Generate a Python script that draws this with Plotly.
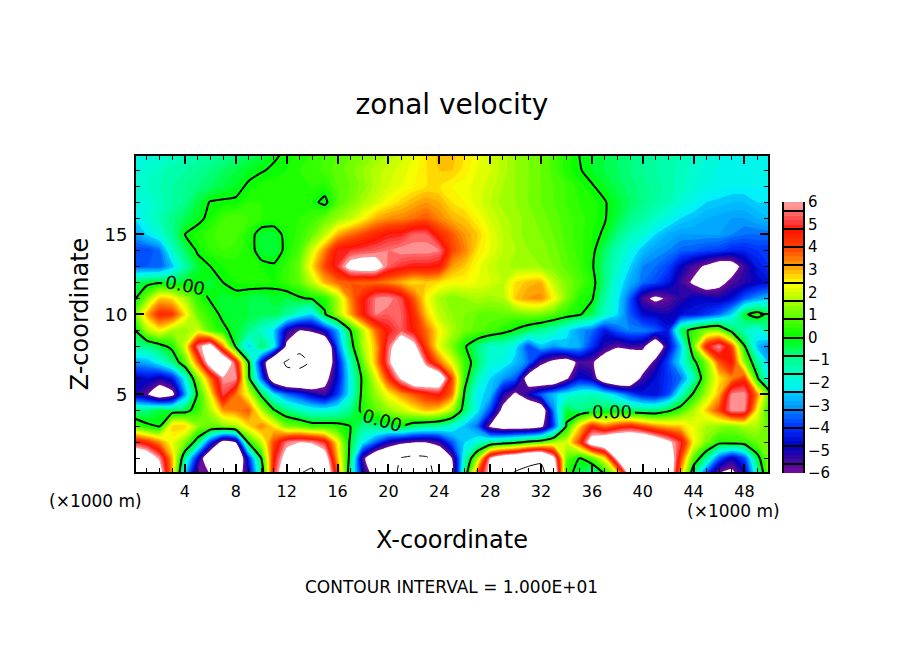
import plotly.graph_objects as go

FONT = "DejaVu Sans"
WIDTH = 904
HEIGHT = 654
PAGE_MARGIN = 8  # the browser body margin shifts the whole figure

x_km = list(range(51))
z_km = list(range(21))

# zonal velocity, one list per height (km), one value per km in x
u_z00 = [8, 8, 7, 3, -2.5, -6, -6, -5.9, -7, -5, -1, 5, 8, 10, 11, 8, 4, -1, -4.8, -6.8, -9, -10.5, -11.5, -11, -9, -6.5, -.8, 4, 6.5, 9, 10.5, 11, 11, 8, .4, -.5, -1.5, -.1, 2, 6.5, 9, 9, 8, 3, -1, -4, -6.2, -6.5, -5, -1.5, 1.5]
u_z01 = [8, 7.5, 5.8, 3, -1, -4.6, -8, -8.5, -8.5, -4.2, 0, 4.6, 6.8, 8, 8.5, 7, 3, -.4, -5.6, -7.8, -8.5, -10.2, -10.8, -10.5, -8, -6, -1.5, 1.5, 6, 7.5, 8, 9, 9.5, 6.5, 1, 0, .8, 2.4, 6.4, 8, 9, 9, 7.8, 4, .8, -1, -3.6, -5, -3.8, -.4, 1.5]
u_z02 = [5, 4.4, 3.4, 2.2, 1.2, -.6, -4, -6.8, -6, .2, 1.8, 4, 5.6, 6, 5.8, 5, 2.4, -.2, -2.2, -3.6, -5, -5.6, -6, -6, -5.4, -3.6, -2.4, -1.8, -1, -.6, -.2, .4, .8, 1.6, 2, 4, 7, 8, 8.5, 8.5, 8.5, 7.5, 6.4, 5, 2.4, 1.2, .3, .4, .5, 1, 1.2]
u_z03 = [.8, .2, 0, 2.8, 2.8, 1.4, 1, 1.2, 1.6, 2.6, 3.4, 2.6, 1.2, 1, .5, .5, .4, 0, -1, -.8, -.5, -.1, -.7, -1, -1.2, -1.8, -2.6, -3.4, -6.2, -7, -7, -7, -6.4, -3.8, .1, 2.6, 4.5, 3.6, 4.2, 4.6, 4, 3.4, 3, 2.8, 2.2, 1.6, 1.4, 1.2, 1.6, 1.6, .8]
u_z04 = [-.8, -.8, -.3, -.5, -.4, .5, 1.6, 3.2, 3.4, 3.8, 1.8, .1, -.8, -1.4, -1.8, -1.9, -1.6, -.9, .3, .9, 1.4, 1.8, 2.4, 2.9, 2.6, 1.6, -.6, -2.2, -3.8, -6.5, -8, -8, -7.5, -3.2, -.3, -.9, -.6, -.4, -.2, -.6, -.8, -.8, -.2, .6, 1.6, 2.8, 4, 5.8, 5.6, 2.4, .2]
u_z05 = [-5, -5.8, -7.4, -6.5, -3, .2, 2.4, 5.2, 3.6, 2.2, -.2, -2.2, -3.4, -4, -4.8, -5.4, -4, -2, .4, 1.4, 2.4, 3.2, 3.8, 4.4, 4.8, 3.6, -.2, -2.2, -2.6, -5, -6.3, -5, -3.6, -2.6, -2, -1.6, -1.4, -1.8, -2.6, -3.6, -4.4, -4.6, -3.8, -1.6, .2, 1.6, 3, 5.7, 5.8, 3.4, .6]
u_z06 = [-5, -4.6, -5, -4.4, -2, 1.2, 3.6, 5.8, 5.8, .3, -3.4, -7.5, -9, -9, -8.5, -6.6, -4.6, -2, .3, 2, 4.2, 6.2, 8, 8, 7.5, 4, .4, -1.4, -2.4, -3, -3.6, -7, -8, -8, -6.2, -4.6, -5, -7.5, -8.5, -8, -5.4, -4.6, -4, -3.4, -1.4, 1, 2.6, 3.4, 4.2, .2, -2.4]
u_z07 = [-3, -2.8, -2, -.9, .8, 3.6, 7, 8, 5, .1, -4.6, -8.5, -10.4, -10.6, -9.8, -8, -4.6, -1.6, 1, 3, 5.6, 8, 8.5, 5.4, 3.6, 2.2, .6, -.6, -1.8, -2, -2.6, -3.4, -5.6, -6.5, -7, -5.6, -5.8, -7, -8, -8.5, -7.5, -5.4, -3.8, -2.2, -.3, 1.2, 3.8, 4.8, 1.4, -1, -2.8]
u_z08 = [-1, -.9, -.4, .3, 2, 5.6, 6.8, 3.4, -.2, -2.6, -.6, -2, -6.4, -9.5, -9.8, -8.5, -3.6, -.5, 1.6, 3, 5.4, 7.4, 6.5, 4, 2.2, 1.2, .1, -.8, -1.6, -1.6, -2.2, -3.8, -2.6, -3, -2.6, -2.8, -4, -5.2, -5.8, -5.4, -5.6, -8, -4.8, -2.6, 1, 4.6, 5.8, 4, .1, -2.6, -3.4]
u_z09 = [-.2, 1.6, 2.4, 1.6, 1.4, 2, .8, .2, -.3, -.8, -1.6, -2.4, -5, -6, -5.6, -4.6, -2.8, 0, 1.8, 3.6, 4.8, 5.4, 4.6, 3.6, 2.4, 1.6, 1.1, .9, .7, .3, -.1, -.6, -1, -1.5, -2.2, -3, -3.4, -4.4, -3.6, -3.2, -3.2, -3.6, -4.4, -.6, .5, 1.2, 1.3, -.4, -1.4, -2, -1]
u_z10 = [.8, 3, 4.4, 4.2, 2.6, 1, .4, -.2, -.3, -.4, -.5, -.5, -1, -1.8, -2.4, -.1, 1.5, 3, 4.6, 5.6, 5.4, 5.4, 4.4, 2.8, 1.8, 1.4, 1.2, 1, .9, 1, 1, 1.2, 1.1, .8, .4, .1, -.5, -1.6, -2.4, -3.6, -4.6, -4.8, -5, -4.6, -4.4, -4, -3.4, -2.4, -.2, .5, -.4]
u_z11 = [-.2, 1.2, 2.8, 2.6, 1.6, .5, -.1, -.3, -.2, -.4, -.5, -.3, -.4, -.1, .1, .3, 1.6, 3.4, 4.6, 5.6, 5.8, 5.2, 3.8, 2.4, 1.6, 1.2, 1.4, 1.6, 1.5, 1.6, 2.8, 3.2, 3.3, 2.4, 1.2, .4, .1, -1.2, -2.2, -3.6, -5.6, -6.3, -5.8, -5.2, -4.8, -4.8, -5, -4.6, -3.6, -3, -2.6]
u_z12 = [-.6, -.3, -.1, -.4, -.2, -.1, -.3, 0, .2, .3, .3, .2, .5, .9, 1.8, 3, 3.6, 3.8, 3.6, 3.6, 3.4, 3, 2.6, 2.8, 2.6, 2.4, 2.4, 2.2, 2, 1.8, 2.6, 2.9, 3, 1.8, 1.2, .8, .3, -.8, -2, -2.8, -3.4, -3.8, -4.4, -5.4, -6.2, -7, -6.5, -5.6, -5.2, -4.8, -4.4]
u_z13 = [-3.6, -3.6, -3.6, -2.6, -1.2, -.3, 0, .2, .3, .2, .2, .1, .5, 1, 2.6, 4, 5, 6.6, 7, 6.8, 5.4, 5, 4.8, 4.8, 4.6, 3.2, 2.8, 2.3, 1.9, 1.7, 1.5, 1.5, 1.4, 1.2, .9, .6, .1, -.8, -1.6, -2.4, -3.2, -3.4, -3.8, -4.8, -5.6, -6.2, -7, -6.8, -5.4, -4.4, -4]
u_z14 = [-3.8, -3.8, -3.4, -1.6, -.6, .1, .4, .6, .5, .3, -.3, -.4, .2, .7, 2, 3.4, 4.8, 5, 5.2, 5.4, 5.6, 5.8, 5.8, 5.8, 5.6, 4, 3.4, 2.6, 2.2, 1.8, 1.6, 1.4, 1.3, 1.1, .8, .5, .2, -.6, -1.4, -2, -2.6, -3, -3.2, -3.5, -3.6, -3.8, -3.9, -4.2, -4.2, -4, -4]
u_z15 = [-3, -2.4, -1.8, -1, 0, .3, .5, .8, .7, .3, -.3, -.3, .2, .5, 1, 1.8, 3, 3.6, 4, 4.4, 4.8, 4.9, 5.4, 5.4, 4.4, 3.8, 3.2, 2.8, 2.2, 1.8, 1.5, 1.3, 1.2, 1, .7, .5, .2, -.1, -.8, -1.4, -1.8, -2.4, -2.8, -3, -3, -3, -3, -3.2, -3.4, -3.4, -3.4]
u_z16 = [-2.4, -1.8, -1.4, -.9, -.5, -.2, .2, .6, .8, .6, .4, .3, .3, .4, .6, 1, 1.4, 1.8, 2.4, 3, 3.3, 3.4, 3.6, 3.8, 3.4, 3, 2.8, 2.4, 2, 1.7, 1.5, 1.3, 1.1, .9, .7, .5, .3, .05, -.4, -.9, -1.2, -1.6, -2, -2.4, -2.6, -2.8, -2.9, -3, -3, -2.8, -2.6]
u_z17 = [-2, -1.8, -1.5, -1.2, -.9, -.4, .05, .1, .1, .4, .4, .3, .3, .3, .2, -.2, .8, 1.2, 1.6, 2, 2.4, 2.7, 3, 3.2, 3, 2.6, 2.4, 2.1, 1.8, 1.5, 1.4, 1.2, 1, .8, .6, .4, .3, .05, -.3, -.6, -.9, -1.2, -1.4, -1.8, -2.1, -2.4, -2.5, -2.6, -2.6, -2.4, -2.4]
u_z18 = [-1.8, -1.6, -1.4, -1.2, -1, -.8, -.6, -.4, -.2, .1, .3, .3, .3, .3, .4, .3, .8, 1, 1.3, 1.7, 2, 2.2, 2.4, 2.6, 2.6, 2.4, 2.3, 2.1, 1.9, 1.6, 1.4, 1.2, 1, .8, .6, .3, .05, -.2, -.5, -.7, -.9, -1.1, -1.3, -1.5, -1.8, -2, -2.1, -2.2, -2.2, -2.2, -2.2]
u_z19 = [-1.9, -1.7, -1.5, -1.3, -1.2, -1, -.8, -.6, -.4, -.2, -.05, .1, .2, .4, .5, .7, .9, 1.1, 1.4, 1.7, 1.9, 2.1, 2.3, 2.6, 2.8, 2.8, 2.5, 2.2, 2, 1.7, 1.4, 1.2, 1, .7, .3, .05, -.2, -.4, -.6, -.8, -1, -1.2, -1.3, -1.5, -1.7, -1.9, -2, -2.2, -2.2, -2.2, -2.2]
u_z20 = [-2, -1.9, -1.8, -1.6, -1.5, -1.3, -1.2, -1, -.8, -.6, -.4, -.1, .1, .3, .4, .6, .8, 1, 1.2, 1.4, 1.6, 1.9, 2.2, 2.6, 2.9, 2.9, 2.6, 2.3, 2, 1.7, 1.4, 1.2, 1, .7, .3, 0, -.2, -.4, -.6, -.8, -1, -1.1, -1.3, -1.4, -1.6, -1.8, -2, -2.2, -2.2, -2.2, -2.2]

u = [
    u_z00, u_z01, u_z02, u_z03, u_z04, u_z05, u_z06, u_z07, u_z08, u_z09, u_z10,
    u_z11, u_z12, u_z13, u_z14, u_z15, u_z16, u_z17, u_z18, u_z19, u_z20,
]

scale_levels = [-6, -5.6, -4.8, -4, -3.3, -3.2, -2.5, -2.4, -1.6, -0.8, 0, 0.8, 1.6, 2.4, 3.2, 4, 4.8, 5, 5.6, 5.7, 6]
scale_colors = [
    "#7a0aa0", "#4a0a98", "#0000c0", "#0030ff", "#0078ff", "#0090ff", "#00c8ff", "#00f0ff", "#00ffc8", "#00ff80",
    "#00ff00", "#50ff00", "#aaff00", "#ffff00", "#ff9900", "#ff4000", "#ff1000", "#ff3030", "#ff7070", "#ff9090", "#ff9999",
]
bar_levels = [round(-5.9 + 0.2 * i, 1) for i in range(60)]
bar_separators = [round(-5.6 + 0.8 * i, 1) for i in range(15)]
bar_labels = list(range(-6, 7))

x_major = list(range(4, 49, 4))
z_major = [5, 10, 15]

# anything beyond +-6 is left white, so the scale runs wider than the bar
Z_LIMIT = 12
colorscale = (
    [[0, "white"], [(Z_LIMIT - 6) / (2 * Z_LIMIT), "white"]]
    + [[(v + Z_LIMIT) / (2 * Z_LIMIT), c] for v, c in zip(scale_levels, scale_colors)]
    + [[(Z_LIMIT + 6) / (2 * Z_LIMIT), "white"], [1, "white"]]
)


def px_x(px):
    return (px - PAGE_MARGIN) / WIDTH


def px_y(px):
    return 1 - (px - PAGE_MARGIN) / HEIGHT


def line_contour(level, width, dash="solid", labels=False):
    return go.Contour(
        x=x_km,
        y=z_km,
        z=u,
        autocontour=False,
        contours=dict(
            start=level,
            end=level,
            size=1,
            coloring="none",
            showlabels=labels,
            labelformat=".2f",
            labelfont=dict(family=FONT, size=18, color="black"),
        ),
        line=dict(color="black", width=width, dash=dash, smoothing=0.5),
        showscale=False,
        hoverinfo="skip",
    )


def pixel_note(text, x, y, size):
    return dict(
        text=text,
        x=px_x(x),
        y=px_y(y),
        xref="paper",
        yref="paper",
        xanchor="center",
        yanchor="middle",
        showarrow=False,
        font=dict(size=size),
    )


fig = go.Figure()
fig.add_trace(
    go.Contour(
        x=x_km,
        y=z_km,
        z=u,
        zmin=-Z_LIMIT,
        zmax=Z_LIMIT,
        autocontour=False,
        contours=dict(start=-Z_LIMIT, end=Z_LIMIT, size=0.2, coloring="fill", showlines=False),
        colorscale=colorscale,
        line=dict(width=0, smoothing=0.5),
        showscale=False,
    )
)
fig.add_trace(line_contour(0, 2, labels=True))
fig.add_trace(line_contour(10, 1))
fig.add_trace(line_contour(-10, 1, dash="dash"))

fig.add_trace(
    go.Heatmap(
        x=[0],
        y=bar_levels,
        z=[[v] for v in bar_levels],
        zmin=-Z_LIMIT,
        zmax=Z_LIMIT,
        colorscale=colorscale,
        showscale=False,
        xaxis="x2",
        yaxis="y2",
    )
)

frame = dict(showline=True, linecolor="black", linewidth=2, mirror="allticks")
fig.update_layout(
    width=WIDTH,
    height=HEIGHT,
    margin=dict(l=0, r=0, t=0, b=0, autoexpand=False),
    paper_bgcolor="white",
    plot_bgcolor="white",
    showlegend=False,
    font=dict(family=FONT, color="black", size=15),
    title=dict(
        text="zonal velocity",
        x=px_x(452),
        y=px_y(104),
        xanchor="center",
        yanchor="middle",
        font=dict(size=28),
    ),
    xaxis=dict(
        domain=[px_x(136), px_x(768)],
        range=[0.15, 49.85],
        tickvals=x_major,
        ticks="inside",
        ticklen=8,
        tickwidth=2,
        tickcolor="black",
        tickfont=dict(size=16),
        ticklabelstandoff=4,
        minor=dict(dtick=1, tick0=0, ticks="inside", ticklen=4, tickwidth=1, tickcolor="black", showgrid=False),
        showgrid=False,
        zeroline=False,
        title=dict(text="X-coordinate", font=dict(size=24), standoff=31),
        **frame,
    ),
    yaxis=dict(
        domain=[px_y(472), px_y(156)],
        range=[0.15, 19.9],
        tickvals=z_major,
        ticks="inside",
        ticklen=8,
        tickwidth=2,
        tickcolor="black",
        tickfont=dict(size=18),
        ticklabelstandoff=3,
        minor=dict(dtick=1, tick0=0, ticks="inside", ticklen=4, tickwidth=1, tickcolor="black", showgrid=False),
        showgrid=False,
        zeroline=False,
        title=dict(text="Z-coordinate", font=dict(size=24), standoff=9),
        **frame,
    ),
    xaxis2=dict(
        domain=[px_x(784), px_x(803)],
        anchor="y2",
        visible=False,
    ),
    yaxis2=dict(
        domain=[px_y(473), px_y(202)],
        anchor="x2",
        side="right",
        range=[-6, 6],
        tickvals=bar_labels,
        ticks="",
        minor=dict(tickvals=bar_separators, ticks="inside", ticklen=19, tickwidth=2, tickcolor="black", showgrid=False),
        showgrid=False,
        zeroline=False,
        showline=True,
        linecolor="black",
        linewidth=2,
        mirror=True,
        tickfont=dict(size=15),
    ),
    annotations=[
        pixel_note("(×1000 m)", 95, 501, 17),
        pixel_note("(×1000 m)", 733, 511, 17),
        pixel_note("CONTOUR INTERVAL = 1.000E+01", 451, 587, 17),
    ],
)

fig.write_html("out.html")
